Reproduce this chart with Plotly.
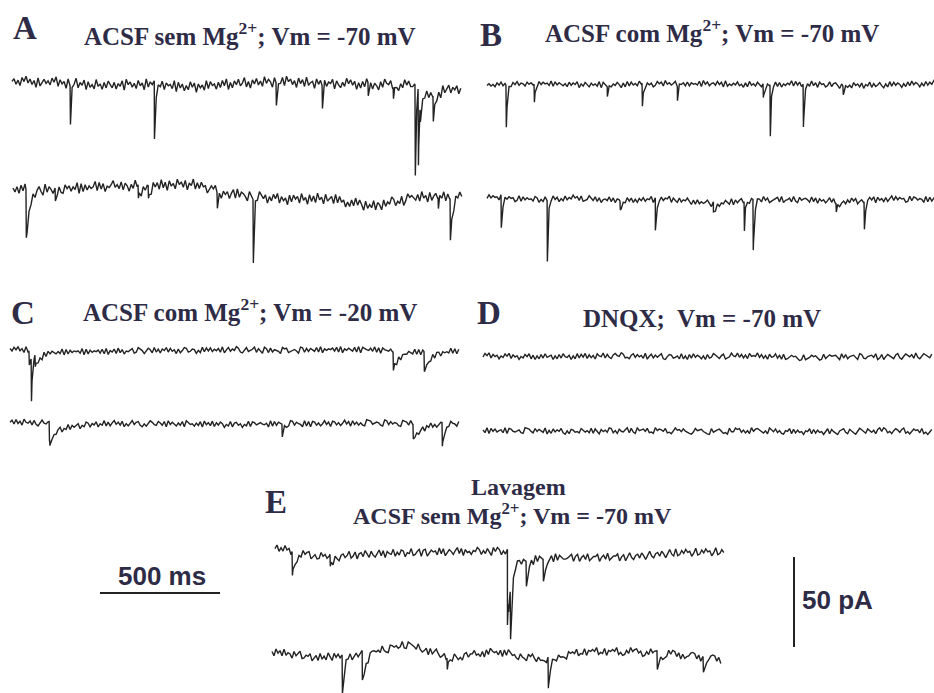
import numpy as np
import plotly.graph_objects as go

# ---------------- data ----------------
SWEEP_MS = 1870          # duration of every sweep, ms
SCALE_MS = 500           # time scale bar
SCALE_PA = 50            # current scale bar

# events: (time in ms from sweep start, amplitude in pA (inward), decay in ms)
A1_EVENTS = [(242, 22, 4), (592, 32, 4), (1100, 12, 5), (1292, 12, 4), (1483, 7, 6),
             (1588, 7, 6), (1679, 50, 4), (1692, 44, 5), (1700, 9, 60), (1754, 15, 12)]
A2_EVENTS = [(54, 26, 15), (175, 7, 8), (521, 8, 15), (563, 7, 8), (850, 8, 15),
             (1000, 35, 4), (1771, 7, 6), (1821, 24, 12)]
B1_EVENTS = [(79, 23, 4), (196, 10, 4), (500, 5.5, 6), (646, 13, 5), (792, 8, 4),
             (1150, 8, 5), (1179, 29, 4), (1317, 24, 4), (1483, 4.5, 8)]
B2_EVENTS = [(58, 18, 5), (250, 34, 4), (554, 4.5, 8), (700, 18, 5), (942, 5.5, 15),
             (1071, 17, 4), (1108, 28, 5), (1454, 5.5, 10), (1571, 15, 5)]
C1_EVENTS = [(79, 8, 20), (88, 24, 4), (104, 7, 30), (1596, 11, 25), (1725, 11, 30)]
C2_EVENTS = [(163, 11, 8), (165, 5, 100), (1133, 7, 6), (1679, 8, 40), (1800, 13, 8)]
D1_EVENTS = []
D2_EVENTS = []
E1_EVENTS = [(71, 14, 15), (229, 7, 15), (967, 42, 10), (972, 8, 80), (980, 28, 8),
             (1046, 14, 12), (1117, 12, 12)]
E2_EVENTS = [(292, 21, 10), (375, 16, 15), (729, 7, 10), (1150, 18, 10), (1604, 10, 10),
             (1796, 8, 10)]

# slow baseline level (pA) at 11 equally spaced points along each sweep
A1_LEVELS = [2.2, 1.7, 0.0, 0.6, -1.1, 1.1, 2.2, 1.1, 0.6, 0.0, -1.1]
A2_LEVELS = [0.0, 0.0, 1.7, 2.2, 2.8, -2.8, -5.6, -5.0, -9.5, -4.4, -2.8]
B1_LEVELS = [0.0, 0.6, 0.0, 0.0, 0.6, 0.6, 0.0, 0.6, -0.6, 0.0, 0.6]
B2_LEVELS = [0.4, -1.1, -0.2, -1.7, -0.7, -3.3, -1.1, -1.1, -2.1, -0.7, -1.1]
C1_LEVELS = [1.7, 0.0, 0.0, 0.6, 0.6, 1.1, 0.6, 1.1, 1.1, 0.0, 0.6]
C2_LEVELS = [0.6, -0.6, 0.0, -0.6, -0.6, -1.1, -0.6, -0.6, 0.0, -0.6, -0.6]
D1_LEVELS = [0.6, 0.0, 0.0, 0.6, 0.0, 0.0, 0.6, -0.6, 0.0, 0.0, 0.6]
D2_LEVELS = [0.6, 0.6, 0.0, 0.6, 0.6, 0.0, 0.6, 0.0, 0.0, 0.6, 0.0]
E1_LEVELS = [2.2, -2.8, -1.7, -0.6, 0.0, 0.0, -2.2, -3.3, -2.8, -0.6, 0.0]
E2_LEVELS = [1.7, -1.7, 0.0, 5.6, -1.7, 1.7, -2.8, 1.7, 1.7, 0.0, -2.8]

# baseline noise, hand-estimated digits (0..9) along each sweep
A1_NOISE = ("5736285947361825746385927" "4618375926481735294627385" "3726481957362846193758264"
            "8275639184726395817462938" "5627384916274835926174836" "2947518364829573618472935"
            "6184729365817426395847162" "7395826417396582741639584" "4628175936284719358264715")
A2_NOISE = ("6372849153726841937526483" "2857364918273645928371546" "9463827516394827365184729"
            "3718462957381649273856147" "5829374615829376418527396" "4716385927461838572946183"
            "7294618357293846152739485" "1836492751836497253814967" "5372946182573948162739584")
B1_NOISE = ("4635274836152748365274635" "2847563928475362847591638" "5274639185273648517293846"
            "3958274613857294635817462" "7264538194725638471925364" "8351729463852716394827153"
            "6492837154629371856249378" "5173846295738164927358416" "2938475162839475162837495")
B2_NOISE = ("3847562938475613928475639" "7152836494715283649572813" "4963827156493827615394826"
            "2748365917248365917428365" "9517283646951728364852917" "3682941753862947135682914"
            "5729318467529381746259381" "8146273958146237959184627" "2693847561293874651928374")
C1_NOISE = ("5274836192574836192847536" "3918274656391827465738291" "6482937154682397514862937"
            "2759384617259834761529384" "8364729158364972158346927" "4197283654197823564198273"
            "7538291646573829164753829" "1865473928186547392816547" "5392817465392871645392817")
C2_NOISE = ("4728361954728316954782316" "8153927468153972648153927" "2694738152694783152697438"
            "6381947526381974526381947" "3927486153927846153928746" "7546192837546129837541928"
            "1873625947187362594718362" "5219873465219837465219873" "9436258174936258714396528")
D1_NOISE = ("3859274615385927461538592" "7162839457162839547162938" "4927361854927316854972316"
            "8374629158374692158734629" "2618394752618349752681349" "5493726184549372618459372"
            "9235867412923586741293586" "6741938256741983256749138" "1586427931586472931586427")
D2_NOISE = ("6291847356291874356219874" "2847539162847593162874539" "7463928517463982517436928"
            "3195674823195764823159674" "8532149678532194678523194" "4978362519478632519748362"
            "1659283745165928374516928" "5316794285316974285361794" "9724158637924158673924158")
E1_NOISE = ("4826395718426395781462395" "7359284167359248167395284" "2693817549263871549236817"
            "8147562938147526938174526" "5972638419597263841959726" "3468192753346819275334681"
            "6815739246681573924668157" "1594267385159426738515942" "9237485614923748561492374")
E2_NOISE = ("5184729365184792365814729" "3629518473629581473692518" "8756394218756349218765394"
            "2471836952471863952417836" "6945271839645271839645217" "4318695274431869527443186"
            "7592438165759243816575924" "1263957846126395784612395" "9837162458983716245898371")

NOISE_PA = {"A": 0.75, "B": 0.42, "C": 0.42, "D": 0.40, "E": 0.55}  # pA per noise digit

TITLES = {
    "A": "ACSF sem Mg<sup>2+</sup>; Vm = -70 mV",
    "B": "ACSF com Mg<sup>2+</sup>; Vm = -70 mV",
    "C": "ACSF com Mg<sup>2+</sup>; Vm = -20 mV",
    "D": "DNQX;  Vm = -70 mV",
    "E": "ACSF sem Mg<sup>2+</sup>; Vm = -70 mV",
}
E_SUBTITLE = "Lavagem"

# ---------------- layout (page pixels) ----------------
W, H = 934, 693
MS_PER_PX = SCALE_MS / 120.0
PA_PER_PX = SCALE_PA / 90.0

SWEEPS = [  # name, panel, events, levels, noise, origin x px, baseline y px
    ("A1", "A", A1_EVENTS, A1_LEVELS, A1_NOISE, 12, 86),
    ("A2", "A", A2_EVENTS, A2_LEVELS, A2_NOISE, 13, 190),
    ("B1", "B", B1_EVENTS, B1_LEVELS, B1_NOISE, 487, 85),
    ("B2", "B", B2_EVENTS, B2_LEVELS, B2_NOISE, 487, 198),
    ("C1", "C", C1_EVENTS, C1_LEVELS, C1_NOISE, 10, 352),
    ("C2", "C", C2_EVENTS, C2_LEVELS, C2_NOISE, 10, 423),
    ("D1", "D", D1_EVENTS, D1_LEVELS, D1_NOISE, 483, 357),
    ("D2", "D", D2_EVENTS, D2_LEVELS, D2_NOISE, 483, 432),
    ("E1", "E", E1_EVENTS, E1_LEVELS, E1_NOISE, 275, 552),
    ("E2", "E", E2_EVENTS, E2_LEVELS, E2_NOISE, 272, 655),
]

TRACE_COLOR = "#232323"
TEXT_COLOR = "#2e2b47"


def sweep(events, levels, noise, scale):
    n = len(noise)
    t = np.linspace(0, SWEEP_MS, n)
    y = (np.array([int(c) for c in noise]) - 4.5) * scale
    y = y + np.interp(t, np.linspace(0, SWEEP_MS, len(levels)), levels)
    extra = []
    for te, a, tau in events:
        extra += [te, te + 1.5]
    tt = np.union1d(t, extra)
    yy = np.interp(tt, t, y)
    for te, a, tau in events:
        m = tt >= te + 1.5
        yy[m] -= a * np.exp(-(tt[m] - te - 1.5) / tau)
    return tt, yy


fig = go.Figure()
for name, panel, ev, lv, nz, x0, y0 in SWEEPS:
    t, y = sweep(ev, lv, nz, NOISE_PA[panel])
    fig.add_trace(go.Scatter(
        x=t + x0 * MS_PER_PX, y=y - y0 * PA_PER_PX, mode="lines",
        line=dict(color=TRACE_COLOR, width=1.4), hoverinfo="skip", showlegend=False))

# scale bars
bx, by = 100, 593
fig.add_trace(go.Scatter(x=[bx * MS_PER_PX, bx * MS_PER_PX + SCALE_MS], y=[-by * PA_PER_PX] * 2,
                         mode="lines", line=dict(color="#222", width=2), showlegend=False,
                         hoverinfo="skip"))
vx, vy = 794, 647
fig.add_trace(go.Scatter(x=[vx * MS_PER_PX] * 2, y=[-vy * PA_PER_PX, -vy * PA_PER_PX + SCALE_PA],
                         mode="lines", line=dict(color="#222", width=2), showlegend=False,
                         hoverinfo="skip"))


def ann(text, px, py, size, family="Liberation Serif", bold=True, anchor="center"):
    fig.add_annotation(x=px / W, y=1 - py / H, xref="paper", yref="paper", text=text,
                       showarrow=False, xanchor=anchor, yanchor="middle",
                       font=dict(family=family, size=size, color=TEXT_COLOR,
                                 weight="bold" if bold else "normal"))


LETTER_POS = {"A": (25, 28), "B": (491, 35), "C": (23, 313), "D": (489, 313), "E": (276, 502)}
TITLE_POS = {"A": (250, 34), "B": (712, 31), "C": (250, 310), "D": (702, 318), "E": (512, 514)}
for k in "ABCDE":
    ann(k, *LETTER_POS[k], 33)
    ann(TITLES[k], *TITLE_POS[k], 25 if k != "E" else 24)
ann(E_SUBTITLE, 518, 487, 24)

ann("500 ms", 162, 576, 26, family="Liberation Sans")
ann("50 pA", 837, 600, 26, family="Liberation Sans")

fig.update_layout(
    width=W, height=H, margin=dict(l=0, r=0, t=0, b=0),
    paper_bgcolor="white", plot_bgcolor="white",
    xaxis=dict(range=[0, W * MS_PER_PX], visible=False, fixedrange=True),
    yaxis=dict(range=[-H * PA_PER_PX, 0], visible=False, fixedrange=True),
)
fig.write_html("out.html")
